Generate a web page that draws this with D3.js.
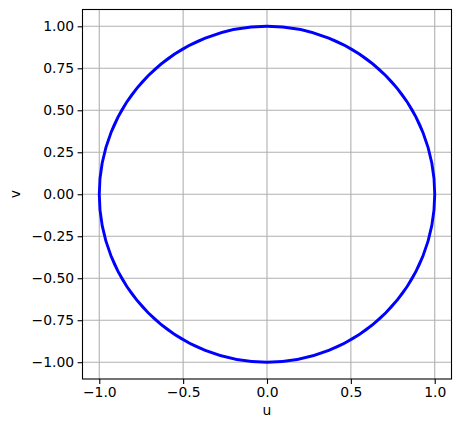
<!DOCTYPE html>
<html>
<head>
<meta charset="utf-8">
<script src="https://cdn.jsdelivr.net/npm/d3@7"></script>
<style>
  body { margin: 0; background: #fff; }
  text { font-family: "DejaVu Sans", sans-serif; }
</style>
</head>
<body>
<svg id="chart" width="461" height="432"></svg>
<script>
// data
const xTicks = [-1.0, -0.5, 0.0, 0.5, 1.0];
const yTicks = [-1.00, -0.75, -0.50, -0.25, 0.00, 0.25, 0.50, 0.75, 1.00];
const xDomain = [-1.1, 1.1];
const yDomain = [-1.1, 1.1];
const circleCenter = [0, 0];
const circleRadius = [1];
const xLabel = "u";
const yLabel = "v";

const margin = { left: 82.5, right: 9.5, top: 9.5, bottom: 53 };
const W = 461, H = 432;
const fs = 13.9;

const svg = d3.select("#chart");

const x = d3.scaleLinear().domain(xDomain).range([margin.left, W - margin.right]);
const y = d3.scaleLinear().domain(yDomain).range([H - margin.bottom, margin.top]);

// grid
const grid = svg.append("g").attr("stroke", "#b0b0b0").attr("stroke-width", 1.1);
xTicks.forEach(t => {
  grid.append("line")
    .attr("x1", x(t)).attr("x2", x(t))
    .attr("y1", y.range()[0]).attr("y2", y.range()[1]);
});
yTicks.forEach(t => {
  grid.append("line")
    .attr("y1", y(t)).attr("y2", y(t))
    .attr("x1", x.range()[0]).attr("x2", x.range()[1]);
});

// the circle
svg.append("ellipse")
  .attr("cx", x(circleCenter[0]))
  .attr("cy", y(circleCenter[1]))
  .attr("rx", x(circleRadius[0]) - x(0))
  .attr("ry", y(0) - y(circleRadius[0]))
  .attr("fill", "none")
  .attr("stroke", "#0000ff")
  .attr("stroke-width", 2.9);

// axes
const fmtX = d3.format(".1f"), fmtY = d3.format(".2f");
const minus = s => s.replace("-", "\u2212");

const xAxis = svg.append("g")
  .attr("transform", `translate(0,${y.range()[0]})`)
  .call(d3.axisBottom(x).tickValues(xTicks).tickSize(4.9).tickPadding(3.5)
    .tickFormat(d => minus(fmtX(d))));
const yAxis = svg.append("g")
  .attr("transform", `translate(${x.range()[0]},0)`)
  .call(d3.axisLeft(y).tickValues(yTicks).tickSize(4.9).tickPadding(3.5)
    .tickFormat(d => minus(fmtY(d))));

[xAxis, yAxis].forEach(a => {
  a.select(".domain").remove();
  a.selectAll("line").attr("stroke", "#000").attr("stroke-width", 1.1);
  a.selectAll("text").attr("font-family", "DejaVu Sans").attr("font-size", fs).attr("fill", "#000");
});

// frame
svg.append("rect")
  .attr("x", x.range()[0]).attr("y", y.range()[1])
  .attr("width", x.range()[1] - x.range()[0])
  .attr("height", y.range()[0] - y.range()[1])
  .attr("fill", "none").attr("stroke", "#000").attr("stroke-width", 1.1);

// labels
svg.append("text")
  .attr("x", (x.range()[0] + x.range()[1]) / 2)
  .attr("y", 415)
  .attr("text-anchor", "middle")
  .attr("font-size", fs)
  .text(xLabel);
svg.append("text")
  .attr("transform", `translate(20,${(y.range()[0] + y.range()[1]) / 2}) rotate(-90)`)
  .attr("text-anchor", "middle")
  .attr("font-size", fs)
  .text(yLabel);
</script>
</body>
</html>
